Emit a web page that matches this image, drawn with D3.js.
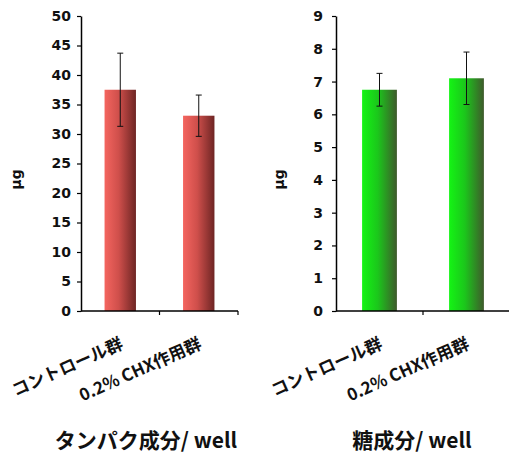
<!DOCTYPE html>
<html>
<head>
<meta charset="utf-8">
<script src="https://cdn.jsdelivr.net/npm/d3@7"></script>
<style>
  html, body { margin: 0; padding: 0; background: #fff; }
  svg { display: block; }
</style>
</head>
<body>
<script>
// Groups shown on both panels
const categories = ["コントロール群", "0.2% CHX作用群"];

// Protein content per well (μg): mean and error
const proteinMeans = [37.5, 33.1];
const proteinErrors = [6.2, 3.5];
const proteinTicks = [0, 5, 10, 15, 20, 25, 30, 35, 40, 45, 50];

// Sugar content per well (μg): mean and error
const sugarMeans = [6.75, 7.1];
const sugarErrors = [0.5, 0.8];
const sugarTicks = [0, 1, 2, 3, 4, 5, 6, 7, 8, 9];

const panelTitles = ["タンパク成分/ well", "糖成分/ well"];
const yAxisLabel = "μg";

const W = 509, H = 455;
const svg = d3.select("body").append("svg").attr("width", W).attr("height", H);

const defs = svg.append("defs");
function addGradient(id, stops) {
  const g = defs.append("linearGradient").attr("id", id)
    .attr("x1", "0%").attr("x2", "100%").attr("y1", "0%").attr("y2", "0%");
  stops.forEach(([o, c]) => g.append("stop").attr("offset", o).attr("stop-color", c));
}
addGradient("gradRed", [["0%", "#f4655f"], ["45%", "#cf4f4b"], ["100%", "#6e2524"]]);
addGradient("gradGreen", [["0%", "#14f414"], ["45%", "#1bc71b"], ["100%", "#3f5a2c"]]);

const tickFont = "'DejaVu Sans', sans-serif";
const cjkFont = "'Noto Sans CJK JP', sans-serif";

function drawPanel(cfg) {
  const g = svg.append("g");
  const x = d3.scaleBand().domain(categories)
    .range([cfg.left, cfg.right]).paddingInner(0.6).paddingOuter(0.3);
  const y = d3.scaleLinear().domain([0, d3.max(cfg.ticks)]).range([cfg.bottom, cfg.top]);

  // bars
  g.selectAll("rect.bar").data(cfg.means).join("rect")
    .attr("class", "bar")
    .attr("x", (d, i) => x(categories[i]))
    .attr("width", x.bandwidth())
    .attr("y", d => y(d))
    .attr("height", d => y(0) - y(d))
    .attr("fill", `url(#${cfg.gradient})`);

  // error bars
  const eb = g.selectAll("g.err").data(cfg.means).join("g").attr("class", "err")
    .attr("stroke", "#111").attr("stroke-width", 1);
  eb.append("line")
    .attr("x1", (d, i) => x(categories[i]) + x.bandwidth() / 2)
    .attr("x2", (d, i) => x(categories[i]) + x.bandwidth() / 2)
    .attr("y1", (d, i) => y(d + cfg.errors[i]))
    .attr("y2", (d, i) => y(d - cfg.errors[i]));
  [1, -1].forEach(s => {
    eb.append("line")
      .attr("x1", (d, i) => x(categories[i]) + x.bandwidth() / 2 - 3)
      .attr("x2", (d, i) => x(categories[i]) + x.bandwidth() / 2 + 3)
      .attr("y1", (d, i) => y(d + s * cfg.errors[i]))
      .attr("y2", (d, i) => y(d + s * cfg.errors[i]));
  });

  // y axis
  const ya = g.append("g").attr("transform", `translate(${cfg.left},0)`)
    .call(d3.axisLeft(y).tickValues(cfg.ticks).tickSize(4).tickSizeOuter(0).tickPadding(cfg.tickPad));
  ya.select(".domain").attr("stroke", "#000").attr("stroke-width", 1.5);
  ya.selectAll(".tick line").attr("stroke", "#000").attr("stroke-width", 1.2);
  ya.selectAll(".tick text")
    .attr("font-family", tickFont).attr("font-weight", "bold")
    .attr("font-size", 14).attr("fill", "#111");

  // x axis line with ticks at category boundaries
  g.append("line")
    .attr("x1", cfg.left).attr("x2", cfg.right)
    .attr("y1", y(0)).attr("y2", y(0))
    .attr("stroke", "#000").attr("stroke-width", 1.5);
  const bounds = d3.range(1, categories.length + 1).map(i => cfg.left + i * x.step());
  g.selectAll("line.xt").data(bounds).join("line").attr("class", "xt")
    .attr("x1", d => d).attr("x2", d => d)
    .attr("y1", y(0)).attr("y2", y(0) + 4)
    .attr("stroke", "#000").attr("stroke-width", 1.2);

  // rotated category labels
  g.selectAll("text.cat").data(categories).join("text").attr("class", "cat")
    .attr("transform", d => `translate(${x(d) + x.bandwidth() / 2 + 4},${y(0) + 37}) rotate(-24)`)
    .attr("text-anchor", "end")
    .attr("font-family", cjkFont).attr("font-weight", "bold")
    .attr("font-size", 17).attr("fill", "#111")
    .text(d => d);

  // y axis unit label
  g.append("text")
    .attr("transform", `translate(${cfg.unitX},${(cfg.top + cfg.bottom) / 2 + 16}) rotate(-90)`)
    .attr("text-anchor", "middle")
    .attr("font-family", tickFont).attr("font-weight", "bold")
    .attr("font-size", 14).attr("fill", "#111")
    .text(yAxisLabel);

  // panel title
  g.append("text")
    .attr("x", cfg.titleX).attr("y", 448)
    .attr("text-anchor", "middle")
    .attr("font-family", cjkFont).attr("font-weight", "bold")
    .attr("font-size", 21).attr("fill", "#111")
    .text(cfg.title);
}

drawPanel({
  left: 81, right: 238, top: 16, bottom: 311,
  means: proteinMeans, errors: proteinErrors, ticks: proteinTicks,
  gradient: "gradRed", tickPad: 6, unitX: 21, titleX: 146, title: panelTitles[0]
});
drawPanel({
  left: 336, right: 510, top: 16, bottom: 311,
  means: sugarMeans, errors: sugarErrors, ticks: sugarTicks,
  gradient: "gradGreen", tickPad: 9, unitX: 284, titleX: 412, title: panelTitles[1]
});
</script>
</body>
</html>
